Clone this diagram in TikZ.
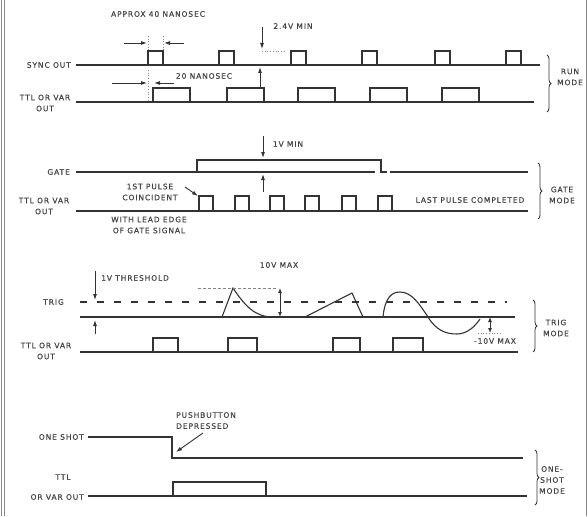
\documentclass[tikz,border=0pt]{standalone}
\usepackage{fontspec}
\setsansfont{DejaVu Sans}[LetterSpace=12, FakeBold=0.6]
\usetikzlibrary{arrows.meta, positioning, calc, decorations.pathreplacing}
\definecolor{ink}{HTML}{333333}
\definecolor{labelcolor}{HTML}{454545}
\definecolor{framecolor}{HTML}{8A8A8A}

\begin{document}
\begin{tikzpicture}[x=1pt, y=-1pt,
    every node/.style={font={\sffamily\fontsize{7.5}{11}\selectfont}, text=labelcolor, inner sep=0pt},
    lab/.style={align=center},
    sig/.style={draw=ink, line width=1.1pt},
    dim/.style={-{Latex[length=6pt,width=4pt]}, draw=ink, line width=0.9pt},
    dimdbl/.style={{Latex[length=5pt,width=4pt]}-{Latex[length=5pt,width=4pt]}, draw=ink, line width=0.9pt},
    guide/.style={draw=ink!60, line width=0.7pt, dotted},
    modebrace/.style={draw=ink, line width=0.8pt, decorate, decoration={brace, amplitude=4pt}},
]
\useasboundingbox (0,0) rectangle (588,516);
\draw[framecolor, line width=0.8pt] (1.5,0) -- (1.5,516);
\draw[framecolor, line width=0.8pt] (4,0) -- (4,516);
\draw[framecolor, line width=0.8pt] (586,0) -- (586,516);

% ---------------- run mode
\node (approx) at (158,14) {APPROX 40 NANOSEC};
\node[anchor=east] (syncl) at (71,65) {SYNC OUT};
\draw[sig] (76,65) -- (540,65);
\foreach \a in {148,219,291,362,435,506}
    \draw[sig] (\a,65) -- (\a,51) -- ({\a+15},51) -- ({\a+15},65);
\node[lab] (runttl) at (45,103) {TTL OR VAR\\OUT};
\draw[sig] (76,102) -- (534,102);
\foreach \a in {153,227,298,370,442}
    \draw[sig] (\a,102) -- (\a,88) -- ({\a+37},88) -- ({\a+37},102);
% widths
\coordinate (w40a) at (147,43);
\coordinate (w40b) at (164,43);
\draw[guide] (148,36) -- (148,51);
\draw[guide] (163,36) -- (163,51);
\draw[dim] (124,43) -- (w40a);
\draw[dim] (184,43) -- (w40b);
\node (ns20) at (204,76) {20 NANOSEC};
\coordinate (w20a) at (147,83);
\coordinate (w20b) at (154,83);
\draw[guide] (148,70) -- (148,100);
\draw[dim] (112,83) -- (w20a);
\draw[dim] (174,83) -- (w20b);
% level
\node (v24) at (293,26) {2.4V MIN};
\draw[dim] (262,27) -- (262,49);
\draw[guide] (262,51) -- (286,51);
\draw[dim] (260,87) -- (260,67);
\draw[modebrace] (547,55) -- (547,112);
\node[lab] (runm) at (570,77) {RUN\\MODE};

% ---------------- gate mode
\node (v1) at (288,144) {1V MIN};
\draw[dim] (263,136) -- (263,158);
\draw[dim] (263,192) -- (263,174);
\node[anchor=east] (gatel) at (70,172) {GATE};
\draw[sig] (76,172) -- (375,172);
\draw[sig] (197,172) -- (197,160) -- (381,160) -- (381,172) -- (387,172);
\draw[sig] (390,172) -- (528,172);
\node[lab] (gatettl) at (44,206) {TTL OR VAR\\OUT};
\draw[sig] (76,211) -- (528,211);
\foreach \a in {199,235,270,305,342,378}
    \draw[sig] (\a,211) -- (\a,196) -- ({\a+14},196) -- ({\a+14},211);
\node[lab] (first) at (150,192) {1ST PULSE\\COINCIDENT};
\coordinate (firstfrom) at (185,187);
\coordinate (firsttip) at (198,196);
\draw[dim] (firstfrom) -- (firsttip);
\node[lab] (lead) at (149,225) {WITH LEAD EDGE\\OF GATE SIGNAL};
\node (lastp) at (470,200) {LAST PULSE COMPLETED};
\draw[modebrace] (538,163) -- (538,219);
\node[lab] (gatem) at (562,195) {GATE\\MODE};

% ---------------- trig mode
\node[anchor=west] (thr) at (101,278) {1V THRESHOLD};
\draw[dim] (95,271) -- (95,300);
\draw[dim] (95,334) -- (95,320);
\node (max10) at (279,265) {10V MAX};
\node[anchor=east] (trigl) at (64,302) {TRIG};
\draw[sig, dash pattern=on 7pt off 10pt] (80,302) -- (507,302);
\draw[sig] (80,317) -- (515,317);
\draw[sig] (222,317) -- (233,288) .. controls (245,306) and (255,317) .. (273,317);
\draw[guide, densely dashed] (198,288) -- (278,288);
\draw[dimdbl] (280,288) -- (280,317);
\draw[sig] (305,317) -- (352,293) -- (363,317);
\draw[sig] (383,317) .. controls (385,297) and (392,292) .. (400,292)
    .. controls (412,292) and (420,305) .. (428,317)
    .. controls (436,330) and (445,334) .. (457,334)
    .. controls (468,334) and (476,325) .. (480,319);
\draw[guide] (478,333) -- (500,333);
\draw[dimdbl] (490,317) -- (490,333);
\node (min10) at (495,341) {-10V MAX};
\node[lab] (trigttl) at (46,351) {TTL OR VAR\\OUT};
\draw[sig] (80,352) -- (518,352);
\foreach \a/\b in {153/178, 228/257, 333/360, 393/423}
    \draw[sig] (\a,352) -- (\a,338) -- (\b,338) -- (\b,352);
\draw[modebrace] (533,300) -- (533,352);
\node[lab] (trigm) at (556,328) {TRIG\\MODE};

% ---------------- one shot mode
\node[anchor=north west, align=left] (push) at (176,412) {PUSHBUTTON\\DEPRESSED};
\node[anchor=east] (onel) at (84,437) {ONE SHOT};
\draw[sig] (88,437) -- (172,437) -- (172,458) -- (523,458);
\coordinate (pushfrom) at (203,433);
\coordinate (pushtip) at (176,452);
\draw[dim] (pushfrom) -- (pushtip);
\node (ttlone) at (63,477) {TTL};
\node[anchor=east] (orvar) at (84,497) {OR VAR OUT};
\draw[sig] (88,496) -- (527,496);
\draw[sig] (173,496) -- (173,482) -- (266,482) -- (266,496);
\draw[modebrace] (535,450) -- (535,505);
\node[lab] (onem) at (552,480) {ONE-\\SHOT\\MODE};

\end{tikzpicture}
\end{document}
